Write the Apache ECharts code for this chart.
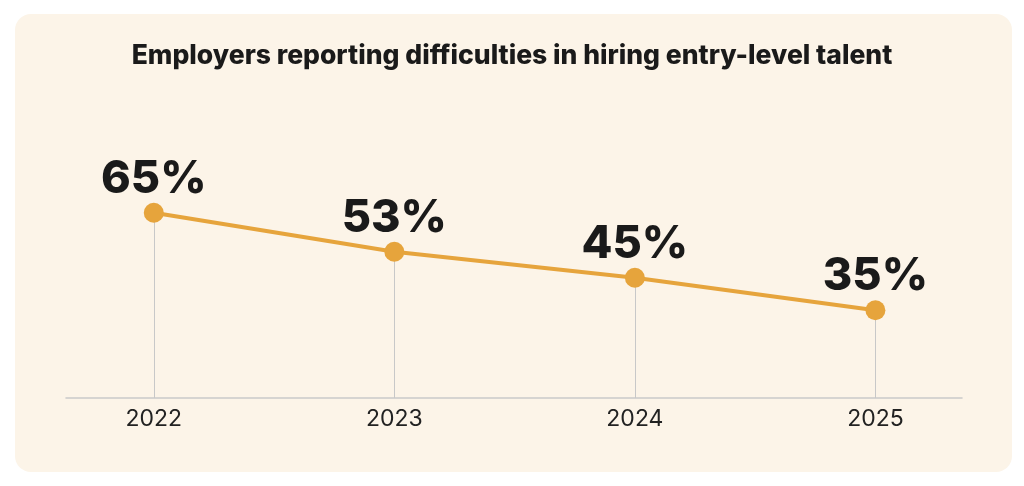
<!DOCTYPE html>
<html>
	<head>
		<meta charset="utf-8" />
		<title>Employers reporting difficulties</title>
		<script src="https://cdn.jsdelivr.net/npm/echarts@6/dist/echarts.min.js"></script>
		<style>
			html, body { margin: 0; padding: 0; background: #fff; }
			#main { width: 1024px; height: 486px; }
		</style>
	</head>
	<body>
		<div id="main"></div>
		<script>
			// data
			var years = [2022, 2023, 2024, 2025];
			var shares = [65, 53, 45, 35];
			var yearLabels = ['2022', '2023', '2024', '2025'];

			var Y_MIN = 8, Y_MAX = 100;

			var mycharts = echarts.init(document.getElementById('main'));

			// points and the thin drop lines down to the axis
			var points = years.map(function (y, i) { return [y, shares[i]]; });
			var drops = years.map(function (y, i) {
				return [{ coord: [y, shares[i]] }, { coord: [y, Y_MIN] }];
			});

			var option = {
				backgroundColor: '#ffffff',
				textStyle: { fontFamily: 'Inter, "Noto Sans", sans-serif' },
				graphic: [{
					type: 'rect',
					z: -10,
					shape: { x: 15, y: 14, width: 997, height: 458, r: 16 },
					style: { fill: '#fcf4e8' }
				}],
				title: {
					text: 'Employers reporting difficulties in hiring entry-level talent',
					left: 'center',
					top: 38,
					textStyle: { fontSize: 26.5, fontWeight: 800, color: '#1a1a1a', fontFamily: 'Inter' }
				},
				grid: { left: 66, right: 62, top: 99, bottom: 88 },
				xAxis: {
					type: 'value',
					min: 2021.635,
					max: 2025.36,
					axisLine: { show: true, onZero: false, lineStyle: { color: '#c9c9c9', width: 1.5 } },
					axisTick: { show: false },
					splitLine: { show: false },
					axisLabel: {
						customValues: years,
						formatter: function (v) { return yearLabels[years.indexOf(v)]; },
						color: '#222',
						fontSize: 23,
						margin: 10,
						fontFamily: 'Inter'
					}
				},
				yAxis: {
					type: 'value',
					min: Y_MIN,
					max: Y_MAX,
					show: false
				},
				series: [{
					type: 'line',
					data: points,
					symbol: 'circle',
					symbolSize: 20,
					lineStyle: { color: '#e6a43c', width: 4 },
					itemStyle: { color: '#e6a43c' },
					label: {
						show: true,
						position: 'top',
						distance: 1,
						formatter: function (p) { return p.value[1] + '%'; },
						fontSize: 45,
						fontWeight: 800,
						color: '#1a1a1a',
						fontFamily: 'Inter'
					},
					markLine: {
						silent: true,
						symbol: 'none',
						label: { show: false },
						lineStyle: { color: '#c8c8c8', width: 1, type: 'solid' },
						data: drops,
						z: 1
					},
					z: 3
				}]
			};
			mycharts.setOption(option);
		</script>
	</body>
</html>
